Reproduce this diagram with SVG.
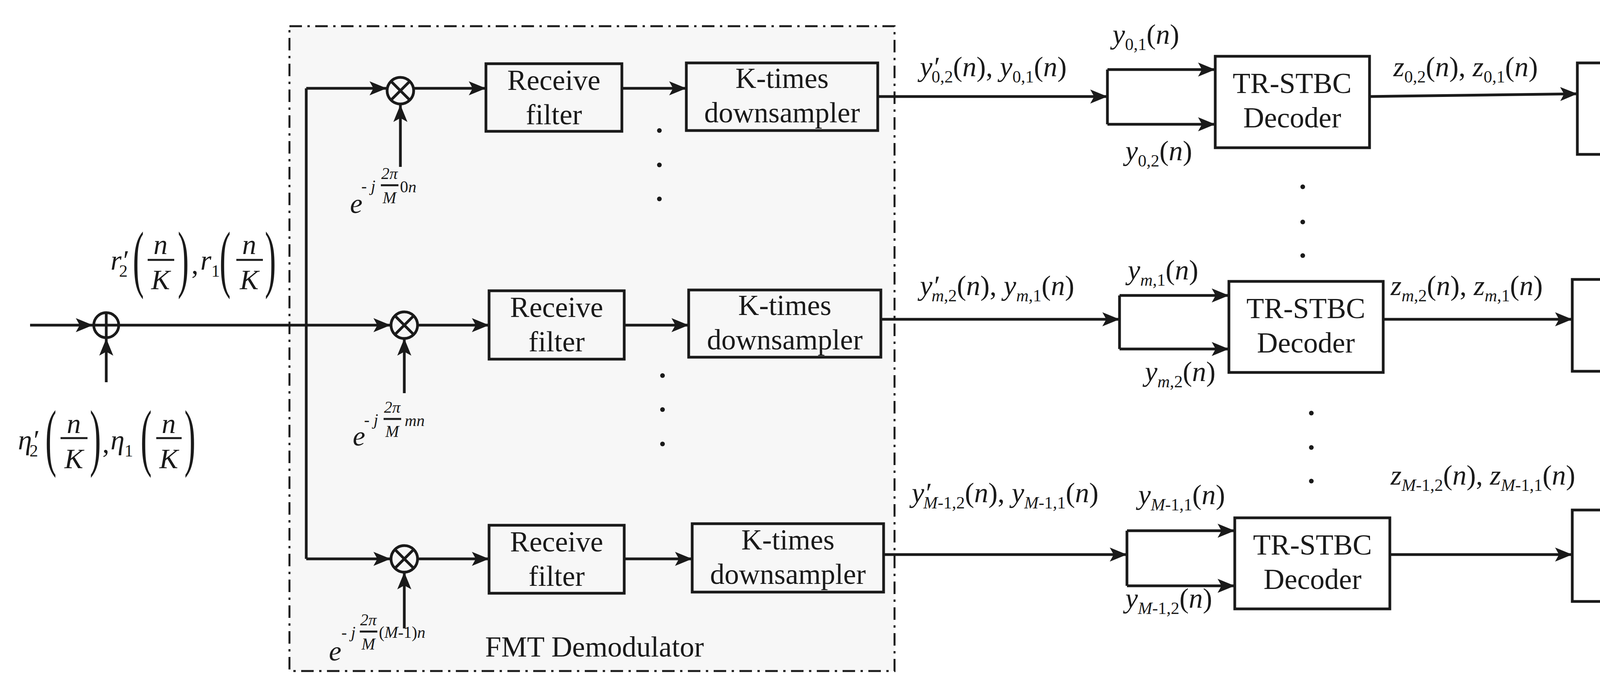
<svg xmlns="http://www.w3.org/2000/svg" width="5737" height="1763" viewBox="0 0 5737 1763">
<style>
.b{fill:#fff;stroke:#1a1a1a;stroke-width:7}
.bf{fill:#f7f7f7;stroke:#1a1a1a;stroke-width:7}
.c{fill:none;stroke:#1a1a1a;stroke-width:7}
.t{font-family:'Liberation Serif','Times New Roman','DejaVu Serif',serif;font-size:74px;fill:#1a1a1a;text-anchor:middle}
.m{font-family:'Liberation Serif','Times New Roman','DejaVu Serif',serif;font-style:italic;font-size:72px;fill:#1a1a1a}
.s{font-size:44px;font-style:normal}
.si{font-size:44px}
.p{font-style:normal}
.e{font-family:'Liberation Serif','Times New Roman','DejaVu Serif',serif;font-style:italic;font-size:42px;fill:#1a1a1a}
.bp{font-family:'Liberation Serif','Times New Roman','DejaVu Serif',serif;font-size:190px;fill:#1a1a1a}
.fr{stroke:#1a1a1a;stroke-width:5}
</style>
<defs>
<marker id="a" markerUnits="userSpaceOnUse" markerWidth="50" markerHeight="40" refX="44" refY="18" orient="auto"><path d="M0,0 L44,18 L0,36 L10,18 Z" fill="#1a1a1a"/></marker>
</defs>
<g id="fmt">
<rect x="741" y="67" width="1549" height="1650" fill="#f7f7f7" stroke="#1a1a1a" stroke-width="5" stroke-dasharray="32 14 6 14"/>
<text class="t" x="1522" y="1680" font-size="70">FMT Demodulator</text>
</g>
<g id="connectors">
<path class="c" d="M77,832 H238" marker-end="url(#a)"/>
<path class="c" d="M272,978 V866" marker-end="url(#a)"/>
<path class="c" d="M304,832 H784 M784,226 V1430"/>
<path class="c" d="M784,226 H990" marker-end="url(#a)"/>
<path class="c" d="M784,832 H1000" marker-end="url(#a)"/>
<path class="c" d="M784,1430 H1000" marker-end="url(#a)"/>
<path class="c" d="M1025,427 V268" marker-end="url(#a)"/>
<path class="c" d="M1035,1006 V866" marker-end="url(#a)"/>
<path class="c" d="M1035,1608 V1464" marker-end="url(#a)"/>
<path class="c" d="M1059,226 H1244" marker-end="url(#a)"/>
<path class="c" d="M1069,832 H1252" marker-end="url(#a)"/>
<path class="c" d="M1069,1430 H1252" marker-end="url(#a)"/>
<path class="c" d="M1592,226 H1757" marker-end="url(#a)"/>
<path class="c" d="M1598,832 H1763" marker-end="url(#a)"/>
<path class="c" d="M1598,1430 H1772" marker-end="url(#a)"/>
<path class="c" d="M2247,247 H2835" marker-end="url(#a)"/>
<path class="c" d="M2835,178 V318"/>
<path class="c" d="M2835,178 H3111" marker-end="url(#a)"/>
<path class="c" d="M2835,318 H3111" marker-end="url(#a)"/>
<path class="c" d="M2255,817 H2866" marker-end="url(#a)"/>
<path class="c" d="M2866,756 V893"/>
<path class="c" d="M2866,756 H3146" marker-end="url(#a)"/>
<path class="c" d="M2866,893 H3146" marker-end="url(#a)"/>
<path class="c" d="M2262,1419 H2885" marker-end="url(#a)"/>
<path class="c" d="M2885,1358 V1499"/>
<path class="c" d="M2885,1358 H3161" marker-end="url(#a)"/>
<path class="c" d="M2885,1499 H3161" marker-end="url(#a)"/>
<path class="c" d="M3506,247 L4038,240" marker-end="url(#a)"/>
<path class="c" d="M3541,817 H4025" marker-end="url(#a)"/>
<path class="c" d="M3558,1419 H4025" marker-end="url(#a)"/>
<path class="c" d="M4527,265 H4950" marker-end="url(#a)"/>
<path class="c" d="M4531,834 H4950" marker-end="url(#a)"/>
<path class="c" d="M4531,1422 H4963" marker-end="url(#a)"/>
<path class="c" d="M5345,284 H5675" marker-end="url(#a)"/>
<path class="c" d="M5345,851 H5675" marker-end="url(#a)"/>
<path class="c" d="M5358,1419 H5690" marker-end="url(#a)"/>
</g>
<g id="adder"><circle class="b" cx="272" cy="832" r="32"/><path class="c" d="M240,832 H304 M272,800 V864"/></g>
<g id="mult0"><circle class="bf" cx="1025" cy="232" r="34"/><path class="c" d="M1001,208 L1049,256 M1049,208 L1001,256"/></g>
<g id="multm"><circle class="bf" cx="1035" cy="832" r="34"/><path class="c" d="M1011,808 L1059,856 M1059,808 L1011,856"/></g>
<g id="multM"><circle class="bf" cx="1035" cy="1430" r="34"/><path class="c" d="M1011,1406 L1059,1454 M1059,1406 L1011,1454"/></g>
<g id="rf0"><rect class="bf" x="1244" y="163" width="348" height="173"/><text class="t" x="1418" y="230">Receive</text><text class="t" x="1418" y="318">filter</text></g>
<g id="rfm"><rect class="bf" x="1252" y="744" width="346" height="175"/><text class="t" x="1425" y="811">Receive</text><text class="t" x="1425" y="899">filter</text></g>
<g id="rfM"><rect class="bf" x="1252" y="1344" width="346" height="174"/><text class="t" x="1425" y="1411">Receive</text><text class="t" x="1425" y="1499">filter</text></g>
<g id="ds0"><rect class="bf" x="1757" y="161" width="490" height="173"/><text class="t" x="2002" y="225">K-times</text><text class="t" x="2002" y="313">downsampler</text></g>
<g id="dsm"><rect class="bf" x="1763" y="742" width="492" height="172"/><text class="t" x="2009" y="806">K-times</text><text class="t" x="2009" y="894">downsampler</text></g>
<g id="dsM"><rect class="bf" x="1772" y="1340" width="490" height="175"/><text class="t" x="2017" y="1406">K-times</text><text class="t" x="2017" y="1494">downsampler</text></g>
<g id="tr0"><rect class="b" x="3111" y="144" width="395" height="234"/><text class="t" x="3308" y="238">TR-STBC</text><text class="t" x="3308" y="326">Decoder</text></g>
<g id="trm"><rect class="b" x="3146" y="720" width="395" height="233"/><text class="t" x="3343" y="814">TR-STBC</text><text class="t" x="3343" y="902">Decoder</text></g>
<g id="trM"><rect class="b" x="3161" y="1325" width="397" height="233"/><text class="t" x="3360" y="1419">TR-STBC</text><text class="t" x="3360" y="1507">Decoder</text></g>
<g id="ae0"><rect class="b" x="4038" y="161" width="489" height="234"/><text class="t" x="4282" y="259">Adaptive</text><text class="t" x="4282" y="343">equalization</text></g>
<g id="aem"><rect class="b" x="4025" y="715" width="506" height="235"/><text class="t" x="4278" y="813">Adaptive</text><text class="t" x="4278" y="897">equalization</text></g>
<g id="aeM"><rect class="b" x="4025" y="1305" width="506" height="234"/><text class="t" x="4278" y="1403">Adaptive</text><text class="t" x="4278" y="1487">equalization</text></g>
<g id="dm0"><rect class="b" x="4950" y="161" width="395" height="234"/><text class="t" x="5147" y="301">Demapper</text></g>
<g id="dmm"><rect class="b" x="4950" y="715" width="395" height="235"/><text class="t" x="5147" y="855">Demapper</text></g>
<g id="dmM"><rect class="b" x="4963" y="1305" width="395" height="234"/><text class="t" x="5160" y="1445">Demapper</text></g>
<g id="dots" fill="#1a1a1a">
<circle cx="1688" cy="334" r="6"/><circle cx="1688" cy="422" r="6"/><circle cx="1688" cy="509" r="6"/>
<circle cx="1696" cy="961" r="6"/><circle cx="1696" cy="1048" r="6"/><circle cx="1696" cy="1136" r="6"/>
<circle cx="3335" cy="478" r="6"/><circle cx="3335" cy="568" r="6"/><circle cx="3335" cy="654" r="6"/>
<circle cx="3357" cy="1057" r="6"/><circle cx="3357" cy="1145" r="6"/><circle cx="3357" cy="1231" r="6"/>
<circle cx="4290" cy="436" r="6"/><circle cx="4290" cy="523" r="6"/><circle cx="4290" cy="613" r="6"/>
<circle cx="4273" cy="1025" r="6"/><circle cx="4273" cy="1113" r="6"/><circle cx="4273" cy="1201" r="6"/>
</g>
<g id="label-r">
<text class="m" x="283" y="690">r′<tspan class="s" dx="-22" dy="18">2</tspan></text>
<text class="bp" transform="translate(340,725) scale(0.45,1)">(</text>
<text class="m" x="411" y="650" text-anchor="middle">n</text><line class="fr" x1="378" y1="665" x2="446" y2="665"/><text class="m" x="411" y="740" text-anchor="middle">K</text>
<text class="bp" transform="translate(455,725) scale(0.45,1)">)</text>
<text class="m p" x="490" y="700">,</text>
<text class="m" x="513" y="690">r<tspan class="s" dy="18">1</tspan></text>
<text class="bp" transform="translate(562,725) scale(0.45,1)">(</text>
<text class="m" x="638" y="650" text-anchor="middle">n</text><line class="fr" x1="605" y1="665" x2="673" y2="665"/><text class="m" x="638" y="740" text-anchor="middle">K</text>
<text class="bp" transform="translate(678,725) scale(0.45,1)">)</text>
</g>
<g id="label-eta">
<text class="m" x="46" y="1150">η′<tspan class="s" dx="-22" dy="18">2</tspan></text>
<text class="bp" transform="translate(116,1182) scale(0.45,1)">(</text>
<text class="m" x="189" y="1108" text-anchor="middle">n</text><line class="fr" x1="155" y1="1121" x2="224" y2="1121"/><text class="m" x="189" y="1198" text-anchor="middle">K</text>
<text class="bp" transform="translate(230,1182) scale(0.45,1)">)</text>
<text class="m p" x="262" y="1158">,</text>
<text class="m" x="283" y="1150">η<tspan class="s" dy="18">1</tspan></text>
<text class="bp" transform="translate(360,1182) scale(0.45,1)">(</text>
<text class="m" x="432" y="1108" text-anchor="middle">n</text><line class="fr" x1="400" y1="1121" x2="465" y2="1121"/><text class="m" x="432" y="1198" text-anchor="middle">K</text>
<text class="bp" transform="translate(472,1182) scale(0.45,1)">)</text>
</g>
<g id="label-exp">
<text class="m" x="896" y="545">e</text><text class="e" x="925" y="490"><tspan class="p">-</tspan> j</text>
<text class="e" x="997" y="458" text-anchor="middle">2π</text><line class="fr" x1="975" y1="474" x2="1020" y2="474" stroke-width="3"/><text class="e" x="997" y="520" text-anchor="middle">M</text>
<text class="e" x="1024" y="492"><tspan class="p">0</tspan>n</text>
<text class="m" x="903" y="1140">e</text><text class="e" x="932" y="1088"><tspan class="p">-</tspan> j</text>
<text class="e" x="1004" y="1056" text-anchor="middle">2π</text><line class="fr" x1="982" y1="1072" x2="1027" y2="1072" stroke-width="3"/><text class="e" x="1004" y="1118" text-anchor="middle">M</text>
<text class="e" x="1036" y="1090">mn</text>
<text class="m" x="842" y="1690">e</text><text class="e" x="874" y="1632"><tspan class="p">-</tspan> j</text>
<text class="e" x="943" y="1600" text-anchor="middle">2π</text><line class="fr" x1="921" y1="1616" x2="966" y2="1616" stroke-width="3"/><text class="e" x="943" y="1662" text-anchor="middle">M</text>
<text class="e" x="970" y="1632"><tspan class="p">(</tspan>M<tspan class="p">-1)</tspan>n</text>
</g>
<g id="labels-y">
<text class="m" x="2355" y="195">y′<tspan class="s" dx="-18" dy="16">0,2</tspan><tspan class="p" dy="-16">(</tspan>n<tspan class="p">),</tspan> y<tspan class="s" dy="16">0,1</tspan><tspan class="p" dy="-16">(</tspan>n<tspan class="p">)</tspan></text>
<text class="m" x="2848" y="112">y<tspan class="s" dy="16">0,1</tspan><tspan class="p" dy="-16">(</tspan>n<tspan class="p">)</tspan></text>
<text class="m" x="2881" y="410">y<tspan class="s" dy="16">0,2</tspan><tspan class="p" dy="-16">(</tspan>n<tspan class="p">)</tspan></text>
<text class="m" x="2355" y="755">y′<tspan class="si" dx="-18" dy="16">m</tspan><tspan class="s">,2</tspan><tspan class="p" dy="-16">(</tspan>n<tspan class="p">),</tspan> y<tspan class="si" dy="16">m</tspan><tspan class="s">,1</tspan><tspan class="p" dy="-16">(</tspan>n<tspan class="p">)</tspan></text>
<text class="m" x="2887" y="715">y<tspan class="si" dy="16">m</tspan><tspan class="s">,1</tspan><tspan class="p" dy="-16">(</tspan>n<tspan class="p">)</tspan></text>
<text class="m" x="2931" y="975">y<tspan class="si" dy="16">m</tspan><tspan class="s">,2</tspan><tspan class="p" dy="-16">(</tspan>n<tspan class="p">)</tspan></text>
<text class="m" x="2334" y="1285">y′<tspan class="si" dx="-18" dy="16">M</tspan><tspan class="s">-1,2</tspan><tspan class="p" dy="-16">(</tspan>n<tspan class="p">),</tspan> y<tspan class="si" dy="16">M</tspan><tspan class="s">-1,1</tspan><tspan class="p" dy="-16">(</tspan>n<tspan class="p">)</tspan></text>
<text class="m" x="2914" y="1290">y<tspan class="si" dy="16">M</tspan><tspan class="s">-1,1</tspan><tspan class="p" dy="-16">(</tspan>n<tspan class="p">)</tspan></text>
<text class="m" x="2881" y="1555">y<tspan class="si" dy="16">M</tspan><tspan class="s">-1,2</tspan><tspan class="p" dy="-16">(</tspan>n<tspan class="p">)</tspan></text>
</g>
<g id="labels-z">
<text class="m" x="3567" y="195">z<tspan class="s" dy="16">0,2</tspan><tspan class="p" dy="-16">(</tspan>n<tspan class="p">),</tspan> z<tspan class="s" dy="16">0,1</tspan><tspan class="p" dy="-16">(</tspan>n<tspan class="p">)</tspan></text>
<text class="m" x="3560" y="755">z<tspan class="si" dy="16">m</tspan><tspan class="s">,2</tspan><tspan class="p" dy="-16">(</tspan>n<tspan class="p">),</tspan> z<tspan class="si" dy="16">m</tspan><tspan class="s">,1</tspan><tspan class="p" dy="-16">(</tspan>n<tspan class="p">)</tspan></text>
<text class="m" x="3560" y="1240">z<tspan class="si" dy="16">M</tspan><tspan class="s">-1,2</tspan><tspan class="p" dy="-16">(</tspan>n<tspan class="p">),</tspan> z<tspan class="si" dy="16">M</tspan><tspan class="s">-1,1</tspan><tspan class="p" dy="-16">(</tspan>n<tspan class="p">)</tspan></text>
</g>
<g id="labels-d">
<text class="m" x="4540" y="130">d̂<tspan class="s" dy="16">0,2</tspan><tspan class="p" dy="-16">(</tspan>n<tspan class="p">),</tspan>d̂<tspan class="s" dy="16">0,1</tspan><tspan class="p" dy="-16">(</tspan>n<tspan class="p">)</tspan></text>
<text class="m" x="4547" y="680">d̂<tspan class="si" dy="16">m</tspan><tspan class="s">,2</tspan><tspan class="p" dy="-16">(</tspan>n<tspan class="p">),</tspan>d̂<tspan class="si" dy="16">m</tspan><tspan class="s">,1</tspan><tspan class="p" dy="-16">(</tspan>n<tspan class="p">)</tspan></text>
<text class="m" x="4492" y="1240">d̂<tspan class="si" dy="16">M</tspan><tspan class="s">-1,2</tspan><tspan class="p" dy="-16">(</tspan>n<tspan class="p">),</tspan>d̂<tspan class="si" dy="16">M</tspan><tspan class="s">-1,1</tspan><tspan class="p" dy="-16">(</tspan>n<tspan class="p">)</tspan></text>
</g>
<g id="labels-b">
<text class="m" x="5439" y="175">b̂<tspan class="s" dy="16">0</tspan><tspan class="p" dy="-16">(</tspan>n<tspan class="p">)</tspan></text>
<text class="m" x="5430" y="725">b̂<tspan class="si" dy="16">m</tspan><tspan class="p" dy="-16">(</tspan>n<tspan class="p">)</tspan></text>
<text class="m" x="5413" y="1200">b̂<tspan class="si" dy="16">M</tspan><tspan class="s">-1</tspan><tspan class="p" dy="-16">(</tspan>n<tspan class="p">)</tspan></text>
</g>
</svg>
